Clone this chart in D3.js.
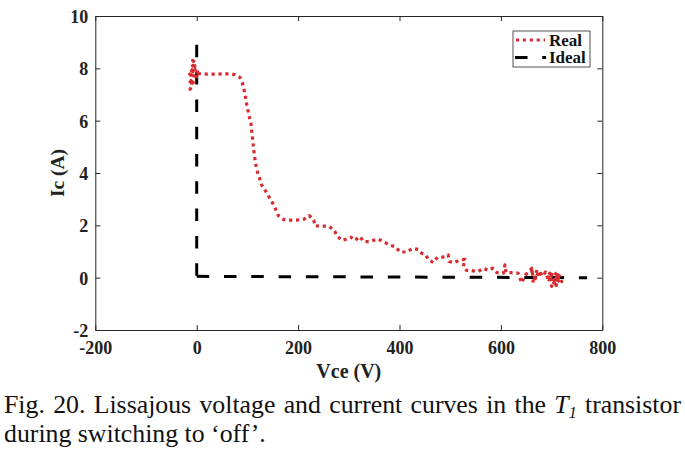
<!DOCTYPE html>
<html><head><meta charset="utf-8">
<script src="https://cdn.jsdelivr.net/npm/d3@7"></script>
<style>body{margin:0;background:#fff}svg{display:block}</style>
</head><body>
<script>
// ---- data ----
const xTicks = [-200, 0, 200, 400, 600, 800];
const yTicks = [-2, 0, 2, 4, 6, 8, 10];
const seriesNames = ["Real", "Ideal"];
const xLabel = "Vce (V)";
const yLabel = "Ic (A)";
const realV = [3, -4, -8, -2, -14, -6, -18, -3, -12, -16, -8, -13, -6, 0, -4, -10, 2,
  20, 40, 60, 75, 85, 90, 95, 99, 103, 107, 110, 113, 116, 120, 124, 128, 137, 143, 150, 156, 161,
  172, 184, 197, 212, 222, 231, 233, 246, 260, 271, 277, 286, 296, 304, 312, 322, 329, 342, 357,
  368, 380, 392, 401, 414, 426, 437, 444, 452, 457, 467, 475, 485, 496, 498, 507, 519, 529, 526,
  532, 542, 555, 565, 575, 584, 592, 605, 608, 610, 621, 634, 641, 648, 654, 661, 664, 671, 680,
  660, 668, 675, 683, 688, 693, 702, 709, 716, 712,
  690, 697, 700, 707, 713, 720, 705, 715, 695, 710, 718];
const realI = [7.8, 8.1, 8.3, 8.2, 8.0, 7.9, 7.7, 7.8, 7.5, 7.4, 7.6, 7.2, 7.5, 7.7, 8.0, 7.9, 7.8,
  7.78, 7.78, 7.79, 7.76, 7.66, 7.45, 7.05, 6.6, 6.2, 5.9, 5.35, 4.8, 4.37, 4.03, 3.8, 3.55, 3.28, 3.07, 2.84, 2.6, 2.37,
  2.22, 2.2, 2.2, 2.24, 2.37, 2.2, 1.98, 1.97, 1.97, 1.82, 1.6, 1.42, 1.48, 1.55, 1.42, 1.57, 1.38, 1.38, 1.48,
  1.38, 1.25, 1.18, 0.98, 0.98, 1.12, 1.08, 0.93, 0.87, 0.68, 0.58, 0.78, 0.78, 0.87, 0.62, 0.57, 0.68, 0.7, 0.42,
  0.28, 0.27, 0.23, 0.36, 0.28, 0.36, 0.19, 0.17, 0.49, 0.2, 0.19, 0.17, -0.2, 0.1, 0.2, 0.36, -0.2, 0.1, 0.17,
  0.3, -0.05, 0.25, 0.05, 0.22, -0.05, 0.12, -0.3, 0.15, -0.1,
  0.04, 0.17, -0.33, -0.02, 0.1, -0.15, 0.2, 0.05, -0.1, -0.25, 0.08];
const idealV = [0, 0, 770];
const idealI = [8.9, 0.05, 0];
const captionLine1 = ["Fig. 20. Lissajous voltage and current curves in the ", "T", "1", " transistor"];
const captionLine2 = "during switching to \u2018off\u2019.";

// ---- font detection ----
function hasFont(name) {
  const c = document.createElement("canvas").getContext("2d");
  const s = "Fig. 20 Lissajous wmWMil1 -200";
  c.font = "bold 30px monospace"; const a = c.measureText(s).width;
  c.font = `bold 30px "${name}", monospace`; const b = c.measureText(s).width;
  return Math.abs(a - b) > 0.5;
}
const serifName = ["Liberation Serif", "Times New Roman", "Tinos", "Nimbus Roman", "Times", "DejaVu Serif"].find(hasFont) || "serif";
const FONT = `"${serifName}", serif`;

// ---- layout ----
const W = 685, H = 452;
const L = 95.3, R = 602.3, T = 16, B = 330;
const axisColor = "#262626";
const redColor = "#d92a2e";

const svg = d3.select("body").append("svg").attr("width", W).attr("height", H);

const x = d3.scaleLinear().domain([-200, 800]).range([L, R]);
const y = d3.scaleLinear().domain([-2, 10]).range([B, T]);
const fmt = d => String(d);

const gB = svg.append("g").attr("transform", `translate(0,${B})`)
  .call(d3.axisBottom(x).tickValues(xTicks).tickSizeInner(-5).tickSizeOuter(0).tickFormat(fmt));
const gT = svg.append("g").attr("transform", `translate(0,${T})`)
  .call(d3.axisTop(x).tickValues(xTicks).tickSizeInner(-5).tickSizeOuter(0).tickFormat(""));
const gL = svg.append("g").attr("transform", `translate(${L},0)`)
  .call(d3.axisLeft(y).tickValues(yTicks).tickSizeInner(-5).tickSizeOuter(0).tickFormat(fmt));
const gR = svg.append("g").attr("transform", `translate(${R},0)`)
  .call(d3.axisRight(y).tickValues(yTicks).tickSizeInner(-5).tickSizeOuter(0).tickFormat(""));

[gB, gT, gL, gR].forEach(g => {
  g.attr("font-family", null);
  g.select(".domain").attr("stroke", axisColor).attr("stroke-width", 1);
  g.selectAll(".tick line").attr("stroke", axisColor).attr("stroke-width", 1);
});
gB.selectAll(".tick text").attr("y", 24).attr("dy", 0)
  .style("font-family", FONT).style("font-weight", "bold").style("font-size", "18px").attr("fill", "#222");
gL.selectAll(".tick text").attr("x", -7).attr("dy", "0.36em")
  .style("font-family", FONT).style("font-weight", "bold").style("font-size", "18px").attr("fill", "#222");
gT.selectAll(".tick text").remove();
gR.selectAll(".tick text").remove();

svg.append("text").attr("x", (L + R) / 2).attr("y", 378).attr("text-anchor", "middle")
  .style("font-family", FONT).style("font-weight", "bold").style("font-size", "20px").attr("fill", "#222")
  .text(xLabel);
svg.append("text").attr("transform", `translate(64,${(T + B) / 2}) rotate(-90)`).attr("text-anchor", "middle")
  .style("font-family", FONT).style("font-weight", "bold").style("font-size", "19.5px").attr("fill", "#222")
  .text(yLabel);

const line = d3.line().x(d => x(d[0])).y(d => y(d[1]));
const realData = realV.map((v, i) => [v, realI[i]]);
const idealData = idealV.map((v, i) => [v, idealI[i]]);

svg.append("g").selectAll("path").data(d3.pairs(idealData)).enter().append("path")
  .attr("d", line)
  .attr("fill", "none").attr("stroke", "#000").attr("stroke-width", 3)
  .attr("stroke-dasharray", "12.5,14.8");
svg.append("path").datum(realData).attr("d", line)
  .attr("fill", "none").attr("stroke", redColor).attr("stroke-width", 3.2)
  .attr("stroke-dasharray", "3.2,3.7").attr("stroke-linejoin", "round");

const lg = svg.append("g");
lg.append("rect").attr("x", 513).attr("y", 31).attr("width", 77).attr("height", 36)
  .attr("fill", "#fff").attr("stroke", axisColor).attr("stroke-width", 0.8);
lg.append("line").attr("x1", 516).attr("x2", 545).attr("y1", 40).attr("y2", 40)
  .attr("stroke", redColor).attr("stroke-width", 3).attr("stroke-dasharray", "3,3.9");
lg.append("line").attr("x1", 515).attr("x2", 546).attr("y1", 57.5).attr("y2", 57.5)
  .attr("stroke", "#000").attr("stroke-width", 3).attr("stroke-dasharray", "12.5,14.8");
lg.selectAll("text.lab").data(seriesNames).enter().append("text").attr("class", "lab")
  .attr("x", 549).attr("y", (d, i) => 45.5 + i * 17.3)
  .style("font-family", FONT).style("font-weight", "bold").style("font-size", "17px").attr("fill", "#111")
  .text(d => d);

const capSize = 25.8;
const c1 = svg.append("text").attr("x", 4).attr("y", 413)
  .style("font-family", FONT).style("font-size", capSize + "px").attr("fill", "#111");
c1.append("tspan").text(captionLine1[0]);
c1.append("tspan").style("font-style", "italic").text(captionLine1[1]);
c1.append("tspan").style("font-style", "italic").style("font-size", "16px").attr("dy", 5).text(captionLine1[2]);
c1.append("tspan").attr("dy", -5).text(captionLine1[3]);
const natural = c1.node().getComputedTextLength();
const nSpaces = captionLine1.join("").split(" ").length - 1;
c1.style("word-spacing", Math.max(0, (681 - 4 - natural) / nSpaces) + "px");
svg.append("text").attr("x", 4).attr("y", 442)
  .style("font-family", FONT).style("font-size", capSize + "px").attr("fill", "#111")
  .text(captionLine2);
</script>
</body></html>
